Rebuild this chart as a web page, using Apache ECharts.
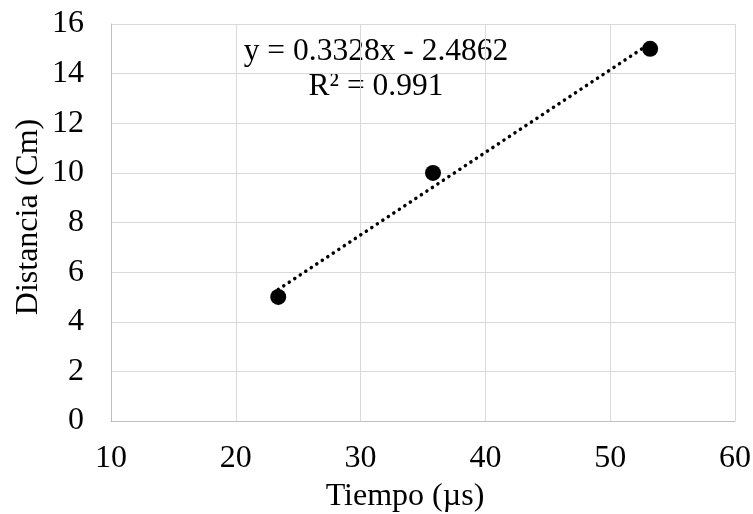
<!DOCTYPE html>
<html><head><meta charset="utf-8">
<script src="https://cdn.jsdelivr.net/npm/echarts@6/dist/echarts.min.js"></script>
<style>html,body{margin:0;padding:0;background:#fff}#c{width:753px;height:514px}</style>
</head><body><div id="c"></div>
<script>
const tiempo = [23.4, 35.8, 53.2];
const distancia = [5, 10, 15];
const slope = 0.3328;
const intercept = -2.4862;
const eqText = 'y = 0.3328x - 2.4862';
const r2Text = 'R² = 0.991';
const xTitle = 'Tiempo (µs)';
const yTitle = 'Distancia (Cm)';

const xMin = Math.min(...tiempo), xMax = Math.max(...tiempo);
const trend = [[xMin, slope * xMin + intercept], [xMax, slope * xMax + intercept]];
const font = 'Liberation Serif, Times New Roman, serif';

const chart = echarts.init(document.getElementById('c'));
chart.setOption({
  animation: false,
  grid: { left: 111, right: 18, top: 24, bottom: 93, containLabel: false, outerBoundsMode: 'none' },
  xAxis: {
    type: 'value', min: 10, max: 60, interval: 10,
    axisLine: { lineStyle: { color: '#bfbfbf', width: 1 } },
    axisTick: { show: false },
    axisLabel: { fontFamily: font, fontSize: 32, color: '#000', margin: 22 },
    splitLine: { lineStyle: { color: '#d9d9d9', width: 1 } }
  },
  yAxis: {
    type: 'value', min: 0, max: 16, interval: 2,
    axisLine: { show: true, lineStyle: { color: '#bfbfbf', width: 1 } },
    axisTick: { show: false },
    axisLabel: { fontFamily: font, fontSize: 32, color: '#000', margin: 27 },
    splitLine: { lineStyle: { color: '#d9d9d9', width: 1 } }
  },
  series: [
    {
      type: 'line', data: trend, symbol: 'none', silent: true, z: 2,
      lineStyle: { color: '#000', width: 3.5, type: [0.1, 6.5], cap: 'round' }
    },
    {
      type: 'scatter', data: tiempo.map((x, i) => [x, distancia[i]]),
      symbol: 'circle', symbolSize: 16, z: 3,
      itemStyle: { color: '#000', opacity: 1 }
    }
  ],
  graphic: [
    { type: 'text', x: 376, y: 52, style: { text: eqText, font: '31.5px ' + font, fill: '#000', align: 'center', verticalAlign: 'middle' } },
    { type: 'text', x: 376, y: 87, style: { text: r2Text, font: '31.5px ' + font, fill: '#000', align: 'center', verticalAlign: 'middle' } },
    { type: 'text', x: 405, y: 497, style: { text: xTitle, font: '32px ' + font, fill: '#000', align: 'center', verticalAlign: 'middle' } },
    { type: 'text', x: 29, y: 217, rotation: Math.PI / 2, style: { text: yTitle, font: '32px ' + font, fill: '#000', align: 'center', verticalAlign: 'middle' } }
  ]
});
</script></body></html>
